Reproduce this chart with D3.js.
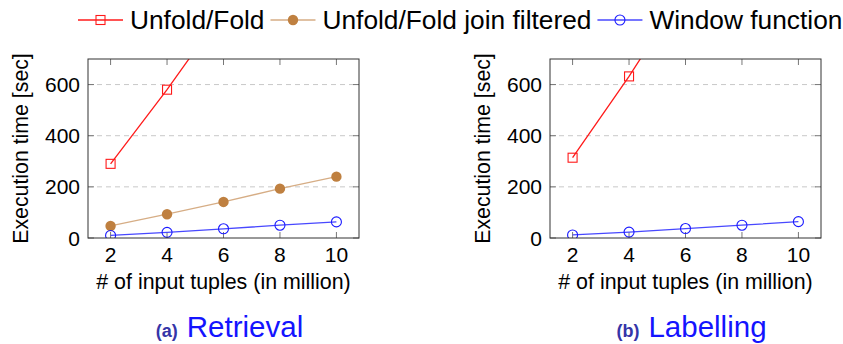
<!DOCTYPE html>
<html>
<head>
<meta charset="utf-8">
<script src="https://cdn.jsdelivr.net/npm/d3@7"></script>
<style>
  body { margin: 0; background: #fff; }
  svg { font-family: "Liberation Sans", Arial, sans-serif; }
</style>
</head>
<body>
<svg id="chart" width="843" height="344"></svg>
<script>
// data
var tuples = [2, 4, 6, 8, 10];
var yTicks = [0, 200, 400, 600];

var retrievalUnfold = [290, 580, 890];
var retrievalJoin = [47, 93, 141, 193, 240];
var retrievalWindow = [10, 22, 36, 50, 63];

var labellingUnfold = [314, 632, 975];
var labellingWindow = [12, 23, 37, 50, 64];

var seriesNames = ["Unfold/Fold", "Unfold/Fold join filtered", "Window function"];

var styles = {
    "Unfold/Fold": { line: "#ff1a1a", mark: "#ff1a1a", shape: "square" },
    "Unfold/Fold join filtered": { line: "#d6ad85", mark: "#bf8040", shape: "dot" },
    "Window function": { line: "#4848ff", mark: "#1a1aff", shape: "circle" }
};

var panels = [
    { left: 88, caption: "(a)", title: "Retrieval", id: "a",
      series: [["Unfold/Fold", retrievalUnfold], ["Unfold/Fold join filtered", retrievalJoin], ["Window function", retrievalWindow]] },
    { left: 550, caption: "(b)", title: "Labelling", id: "b",
      series: [["Unfold/Fold", labellingUnfold], ["Window function", labellingWindow]] }
];

var svg = d3.select("#chart");
var plotW = 271, plotTop = 59, plotBottom = 238;

function drawMarker(g, name, cx, cy) {
    var st = styles[name];
    if (st.shape == "square") {
        g.append("rect").attr("x", cx - 4.5).attr("y", cy - 4.5)
            .attr("width", 9).attr("height", 9)
            .attr("fill", "none").attr("stroke", st.mark).attr("stroke-width", 1.1);
    } else if (st.shape == "dot") {
        g.append("circle").attr("cx", cx).attr("cy", cy).attr("r", 5.2)
            .attr("fill", st.mark);
    } else {
        g.append("circle").attr("cx", cx).attr("cy", cy).attr("r", 5)
            .attr("fill", "none").attr("stroke", st.mark).attr("stroke-width", 1.1);
    }
}

panels.forEach(function(p) {
    var x = d3.scaleLinear().domain([1.2, 10.8]).range([p.left, p.left + plotW]);
    var y = d3.scaleLinear().domain([0, 700]).range([plotBottom, plotTop]);

    svg.append("clipPath").attr("id", "clip" + p.id)
        .append("rect").attr("x", p.left).attr("y", plotTop)
        .attr("width", plotW).attr("height", plotBottom - plotTop);

    // dashed grid
    svg.append("g").selectAll("line").data(yTicks.filter(function(d) { return d > 0; }))
        .enter().append("line")
        .attr("x1", p.left).attr("x2", p.left + plotW)
        .attr("y1", function(d) { return y(d); }).attr("y2", function(d) { return y(d); })
        .attr("stroke", "#c8c8c8").attr("stroke-dasharray", "5,4");

    // inner ticks
    var tk = svg.append("g").attr("stroke", "#777");
    tuples.forEach(function(t) {
        tk.append("line").attr("x1", x(t)).attr("x2", x(t)).attr("y1", plotBottom).attr("y2", plotBottom - 6);
        tk.append("line").attr("x1", x(t)).attr("x2", x(t)).attr("y1", plotTop).attr("y2", plotTop + 6);
    });
    yTicks.forEach(function(t) {
        tk.append("line").attr("x1", p.left).attr("x2", p.left + 6).attr("y1", y(t)).attr("y2", y(t));
        tk.append("line").attr("x1", p.left + plotW).attr("x2", p.left + plotW - 6).attr("y1", y(t)).attr("y2", y(t));
    });

    // tick labels
    svg.append("g").selectAll("text").data(tuples).enter().append("text")
        .attr("x", function(d) { return x(d); }).attr("y", 262)
        .attr("text-anchor", "middle").attr("font-size", 21).text(function(d) { return d; });
    svg.append("g").selectAll("text").data(yTicks).enter().append("text")
        .attr("x", p.left - 8).attr("y", function(d) { return y(d) + 7.5; })
        .attr("text-anchor", "end").attr("font-size", 21).text(function(d) { return d; });

    // axis titles
    svg.append("text").attr("x", x(6)).attr("y", 289)
        .attr("text-anchor", "middle").attr("font-size", 21.4)
        .text("# of input tuples (in million)");
    svg.append("text")
        .attr("transform", "translate(" + (p.left - 60) + "," + ((plotTop + plotBottom) / 2) + ") rotate(-90)")
        .attr("text-anchor", "middle").attr("font-size", 21.3)
        .text("Execution time [sec]");

    // series
    var plot = svg.append("g").attr("clip-path", "url(#clip" + p.id + ")");
    var line = d3.line()
        .x(function(d, i) { return x(tuples[i]); })
        .y(function(d) { return y(d); });
    p.series.forEach(function(s) {
        var name = s[0], vals = s[1];
        plot.append("path").datum(vals).attr("d", line)
            .attr("fill", "none").attr("stroke", styles[name].line).attr("stroke-width", 1.3);
        vals.forEach(function(v, i) { drawMarker(plot, name, x(tuples[i]), y(v)); });
    });

    // frame
    svg.append("rect").attr("x", p.left).attr("y", plotTop)
        .attr("width", plotW).attr("height", plotBottom - plotTop)
        .attr("fill", "none").attr("stroke", "#333").attr("stroke-width", 1);

    // caption
    var cap = svg.append("text").attr("x", x(6) + 6).attr("y", 337).attr("text-anchor", "middle");
    cap.append("tspan").attr("font-size", 18).attr("font-weight", "bold").attr("fill", "#3535a8")
        .text(p.caption);
    cap.append("tspan").attr("font-size", 29.5).attr("fill", "#1414ff").attr("dx", 9).text(p.title);
});

// legend
var lx = 78, ly = 20;
seriesNames.forEach(function(name) {
    var g = svg.append("g");
    g.append("line").attr("x1", lx).attr("x2", lx + 45).attr("y1", ly).attr("y2", ly)
        .attr("stroke", styles[name].line).attr("stroke-width", 1.3);
    drawMarker(g, name, lx + 22.5, ly);
    var t = g.append("text").attr("x", lx + 52).attr("y", ly + 9)
        .attr("font-size", 26.3).text(name);
    lx = lx + 52 + t.node().getComputedTextLength() + 6;
});
</script>
</body>
</html>
